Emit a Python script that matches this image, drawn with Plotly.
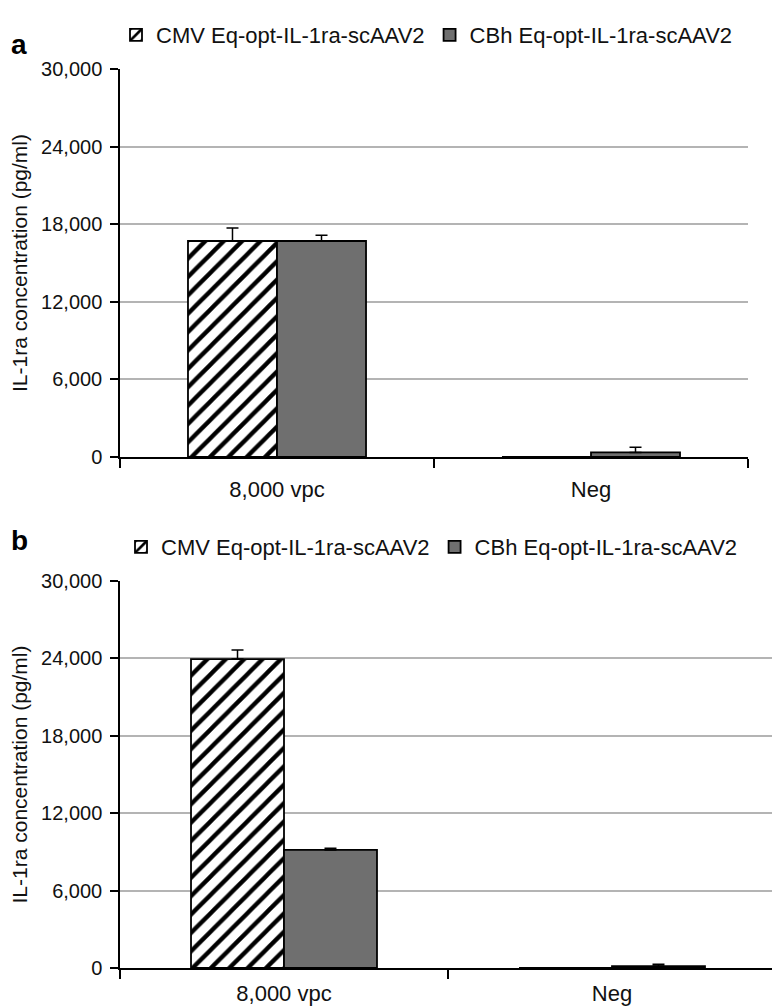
import plotly.graph_objects as go

categories = ["8,000 vpc", "Neg"]
series_names = ["CMV Eq-opt-IL-1ra-scAAV2", "CBh Eq-opt-IL-1ra-scAAV2"]

# Panel a
a_cmv = [16700, 0]
a_cmv_err = [1000, 0]
a_cbh = [16700, 350]
a_cbh_err = [450, 400]

# Panel b
b_cmv = [23950, 0]
b_cmv_err = [700, 0]
b_cbh = [9150, 150]
b_cbh_err = [130, 150]

y_ticks = [0, 6000, 12000, 18000, 24000, 30000]
y_ticktext = ["0", "6,000", "12,000", "18,000", "24,000", "30,000"]
y_title = "IL-1ra concentration (pg/ml)"

FONT = "Liberation Sans, Arial, sans-serif"
# page body has an 8px margin, so the figure is sized to fit inside the 780x1008 window
W, H = 772, 1000
OFF = 8
GRAY = "#6f6f6f"

def px(x):
    return (x - OFF) / W

def py(y):
    return 1 - (y - OFF) / H

fig = go.Figure()

def add_panel(cmv, cmv_err, cbh, cbh_err, xa, ya, legend):
    fig.add_trace(go.Bar(
        x=categories, y=cmv, name=series_names[0], xaxis=xa, yaxis=ya, legend=legend,
        marker=dict(color="white", line=dict(color="black", width=1.8),
                    pattern=dict(shape="/", fgcolor="black", bgcolor="white",
                                 size=13, solidity=0.33, fillmode="replace")),
        error_y=dict(type="data", symmetric=False, array=cmv_err,
                     arrayminus=[0] * len(cmv_err), color="black", thickness=1.5, width=6),
    ))
    fig.add_trace(go.Bar(
        x=categories, y=cbh, name=series_names[1], xaxis=xa, yaxis=ya, legend=legend,
        marker=dict(color=GRAY, line=dict(color="black", width=1.8)),
        error_y=dict(type="data", symmetric=False, array=cbh_err,
                     arrayminus=[0] * len(cbh_err), color="black", thickness=1.5, width=6),
    ))

add_panel(a_cmv, a_cmv_err, a_cbh, a_cbh_err, "x", "y", "legend")
add_panel(b_cmv, b_cmv_err, b_cbh, b_cbh_err, "x2", "y2", "legend2")

def xaxis_cfg(domain, anchor, standoff):
    return dict(domain=domain, anchor=anchor, type="category", automargin=False,
                showline=True, linecolor="black", linewidth=1.5,
                ticks="outside", ticklen=9, tickwidth=1.5, tickcolor="black",
                tickson="boundaries", showgrid=False, ticklabelstandoff=standoff,
                tickfont=dict(family=FONT, size=22, color="#111"))

def yaxis_cfg(domain, anchor):
    return dict(domain=domain, anchor=anchor, range=[0, 30000], automargin=False,
                tickvals=y_ticks, ticktext=y_ticktext,
                showline=True, linecolor="black", linewidth=1.5,
                ticks="outside", ticklen=8, tickwidth=1.5, tickcolor="black",
                ticklabelstandoff=4,
                showgrid=True, gridcolor="#b4b4b4", gridwidth=1.5, zeroline=False,
                tickfont=dict(family=FONT, size=20, color="#111"),
                title=dict(text=y_title, font=dict(family=FONT, size=21, color="#111"), standoff=23))

fig.update_layout(
    width=W, height=H,
    margin=dict(l=0, r=0, t=0, b=0, autoexpand=False),
    paper_bgcolor="white", plot_bgcolor="white",
    barmode="group", bargap=0.433, bargroupgap=0,
    xaxis=xaxis_cfg([px(120), px(748)], "y", 12),
    yaxis=yaxis_cfg([py(457), py(69)], "x"),
    xaxis2=xaxis_cfg([px(120), px(776)], "y2", 5),
    yaxis2=yaxis_cfg([py(968), py(581)], "x2"),
    legend=dict(orientation="h", x=px(116), xanchor="left", y=py(35), yanchor="middle",
                font=dict(family=FONT, size=22, color="#111"), bgcolor="rgba(0,0,0,0)"),
    legend2=dict(orientation="h", x=px(121), xanchor="left", y=py(547), yanchor="middle",
                 font=dict(family=FONT, size=22, color="#111"), bgcolor="rgba(0,0,0,0)"),
    annotations=[
        dict(text="<b>a</b>", x=px(9), y=py(44), xref="paper", yref="paper",
             xanchor="left", yanchor="middle", showarrow=False,
             font=dict(family=FONT, size=28, color="black")),
        dict(text="<b>b</b>", x=px(9), y=py(540), xref="paper", yref="paper",
             xanchor="left", yanchor="middle", showarrow=False,
             font=dict(family=FONT, size=28, color="black")),
    ],
)

fig.write_html("out.html")
